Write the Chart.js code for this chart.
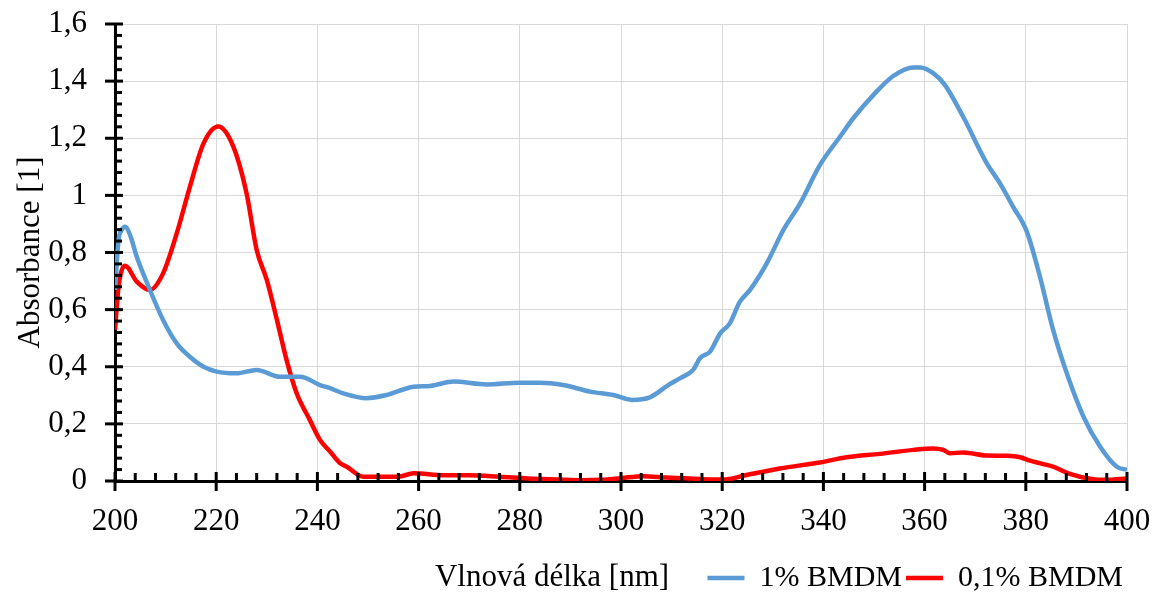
<!DOCTYPE html>
<html>
<head>
<meta charset="utf-8">
<script src="https://cdn.jsdelivr.net/npm/chart.js@4"></script>
<style>
  body { margin: 0; background: #fff; }
</style>
</head>
<body>
<canvas id="myChart" width="1153" height="594"></canvas>
<script>
// wavelength [nm] / absorbance
var wl1 = [200, 200.7, 201.2, 202, 203, 204.3, 206.9, 209.5, 212.2, 214.8, 217.5, 220.1, 224, 228, 232.6, 236.6, 240.5, 242.5, 245.1, 249.7, 253.7, 259, 262.3, 266.9, 273.5, 280, 284, 288.6, 293.9, 298.5, 302.1, 305.7, 309.7, 311.7, 314.3, 315.6, 317.6, 319.6, 321.5, 323.5, 325.5, 328.8, 332.1, 335.4, 339.3, 343.3, 345.9, 349.9, 353.8, 357.8, 359.1, 361.7, 364, 367.6, 372.3, 374.9, 377.5, 380.2, 382.8, 385.4, 388.1, 391.4, 394.7, 398, 400];
var abs1 = [0.669, 0.844, 0.875, 0.89, 0.86, 0.785, 0.669, 0.564, 0.482, 0.435, 0.40, 0.383, 0.377, 0.389, 0.365, 0.365, 0.336, 0.325, 0.307, 0.29, 0.301, 0.33, 0.333, 0.348, 0.338, 0.344, 0.344, 0.336, 0.313, 0.301, 0.284, 0.293, 0.34, 0.36, 0.39, 0.43, 0.453, 0.517, 0.552, 0.628, 0.669, 0.762, 0.879, 0.972, 1.106, 1.206, 1.27, 1.352, 1.418, 1.448, 1.448, 1.428, 1.387, 1.276, 1.112, 1.042, 0.96, 0.873, 0.715, 0.529, 0.377, 0.225, 0.12, 0.05, 0.039];

var wl2 = [200, 200.7, 202, 204.3, 206.9, 209.5, 212.2, 214.8, 217.5, 220.4, 223.4, 226, 228, 230, 232, 233.9, 235.9, 238.5, 240.5, 242.5, 244.5, 245.8, 249.1, 252, 256, 259, 265, 270, 276, 281.6, 286, 291.9, 296, 300, 304.4, 309, 313.6, 316, 320.2, 324.8, 331.4, 339.3, 344.6, 351.2, 357.8, 361.7, 363.7, 365, 367.6, 372.3, 376.3, 378.9, 380.8, 385.4, 388.7, 393.3, 395.9, 400];
var abs2 = [0.529, 0.68, 0.754, 0.698, 0.669, 0.727, 0.867, 1.03, 1.182, 1.241, 1.17, 1.007, 0.809, 0.704, 0.564, 0.424, 0.307, 0.214, 0.144, 0.103, 0.062, 0.05, 0.015, 0.015, 0.015, 0.027, 0.02, 0.02, 0.015, 0.009, 0.006, 0.003, 0.004, 0.01, 0.017, 0.012, 0.009, 0.006, 0.005, 0.021, 0.044, 0.065, 0.083, 0.095, 0.109, 0.114, 0.109, 0.097, 0.1, 0.089, 0.088, 0.083, 0.071, 0.05, 0.025, 0.006, 0.004, 0.009];

var seriesNames = ['1% BMDM', '0,1% BMDM'];
var xTitle = 'Vlnová délka [nm]';
var yTitle = 'Absorbance [1]';

function toPoints(xs, ys) {
    return xs.map(function (v, i) { return {x: v, y: ys[i]}; });
}

var font = 'Liberation Serif';

// excel style tick marks: major ones cross the axis, minor ones point inwards
var axisTicks = {
    id: 'axisTicks',
    afterDraw: function (chart) {
        var ctx = chart.ctx;
        var x = chart.scales.x, y = chart.scales.y;
        var x0 = x.top, y0 = y.right;
        ctx.save();
        ctx.strokeStyle = '#000';
        ctx.lineWidth = 3;
        for (var i = 0; i <= 50; i++) {
            var px = x.getPixelForValue(200 + i * 4);
            var major = i % 5 === 0;
            ctx.beginPath();
            ctx.moveTo(px, major ? x0 + 10 : x0);
            ctx.lineTo(px, major ? x0 - 9 : x0 - 8);
            ctx.stroke();
        }
        for (var j = 0; j <= 40; j++) {
            var py = y.getPixelForValue(j * 0.04);
            var majorY = j % 5 === 0;
            ctx.beginPath();
            ctx.moveTo(majorY ? y0 - 10 : y0, py);
            ctx.lineTo(majorY ? y0 + 8 : y0 + 7, py);
            ctx.stroke();
        }
        ctx.fillStyle = '#000';
        ctx.font = '31px "' + font + '"';
        ctx.textAlign = 'center';
        ctx.textBaseline = 'middle';
        ctx.fillText(xTitle, 552, 578);
        ctx.restore();
    }
};

var ctx = document.getElementById('myChart').getContext('2d');
var myChart = new Chart(ctx, {
    type: 'line',
    data: {
        datasets: [{
            label: seriesNames[0],
            data: toPoints(wl1, abs1),
            borderColor: '#5b9bd5',
            backgroundColor: '#5b9bd5',
            borderWidth: 4.5,
            pointRadius: 0,
            cubicInterpolationMode: 'monotone'
        }, {
            label: seriesNames[1],
            data: toPoints(wl2, abs2),
            borderColor: '#ff0000',
            backgroundColor: '#ff0000',
            borderWidth: 4.5,
            pointRadius: 0,
            cubicInterpolationMode: 'monotone'
        }]
    },
    options: {
        responsive: false,
        animation: false,
        layout: {
            padding: {top: 24, right: 26, bottom: 0, left: 0}
        },
        plugins: {
            tooltip: {enabled: false},
            legend: {
                position: 'bottom',
                align: 'end',
                fullSize: false,
                maxHeight: 35,
                labels: {
                    usePointStyle: true,
                    pointStyle: 'line',
                    pointStyleWidth: 37,
                    padding: 4,
                    color: '#000',
                    font: {family: font, size: 30}
                }
            }
        },
        scales: {
            x: {
                type: 'linear',
                min: 200,
                max: 400,
                afterFit: function (scale) {
                    scale.height = 78;
                    scale.paddingLeft = 0;
                    scale.paddingRight = 0;
                },
                ticks: {
                    stepSize: 20,
                    padding: 22,
                    color: '#000',
                    maxRotation: 0,
                    font: {family: font, size: 31}
                },
                grid: {color: '#d9d9d9', lineWidth: 1, drawTicks: false},
                border: {color: '#000', width: 3}
            },
            y: {
                min: 0,
                max: 1.6,
                afterFit: function (scale) {
                    scale.width = 115;
                    scale.paddingTop = 0;
                    scale.paddingBottom = 0;
                },
                ticks: {
                    stepSize: 0.2,
                    padding: 28,
                    color: '#000',
                    font: {family: font, size: 31},
                    callback: function (v) { return String(Math.round(v * 10) / 10).replace('.', ','); }
                },
                title: {
                    display: true,
                    text: yTitle,
                    color: '#000',
                    padding: {top: 12, bottom: 0},
                    font: {family: font, size: 31, weight: 'normal'}
                },
                grid: {color: '#d9d9d9', lineWidth: 1, drawTicks: false},
                border: {color: '#000', width: 3}
            }
        }
    },
    plugins: [axisTicks]
});
</script>
</body>
</html>
